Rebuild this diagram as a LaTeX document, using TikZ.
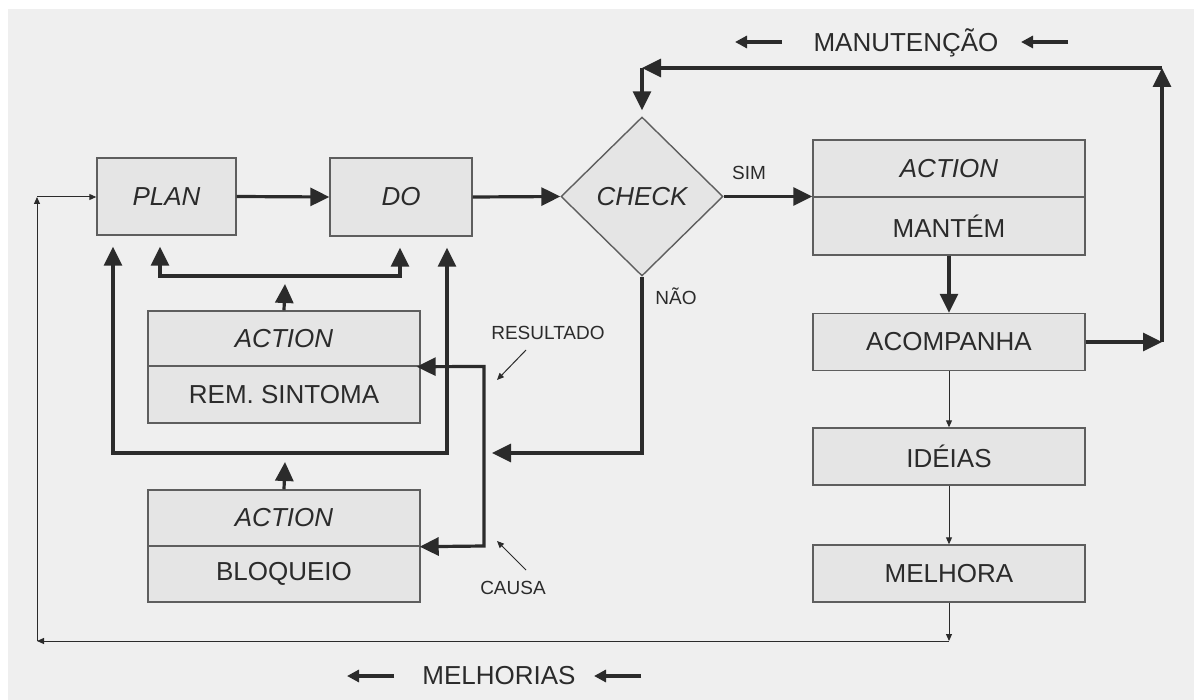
\documentclass[tikz,border=0pt]{standalone}
\usepackage{fontspec}
\setmainfont{Liberation Sans}
\usetikzlibrary{shapes.geometric,arrows.meta,calc}
\definecolor{bg}{HTML}{EFEFEF}
\definecolor{boxfill}{HTML}{E5E5E5}
\definecolor{ink}{HTML}{2B2B2B}
\definecolor{edge}{HTML}{5E5E5E}
\begin{document}
\begin{tikzpicture}[x=1pt,y=-1pt,
  box/.style={draw=edge,line width=1.4pt,fill=boxfill,inner sep=0pt,text=ink,
    font=\fontsize{26}{30}\selectfont,minimum width=272pt},
  lbl/.style={text=ink,inner sep=0pt,font=\fontsize{19}{22}\selectfont},
  ttl/.style={text=ink,inner sep=0pt,font=\fontsize{26}{30}\selectfont},
  thk/.style={line width=3.2pt,draw=ink},
  thn/.style={line width=1pt,draw=ink},
  bigtip/.tip={Triangle[length=19pt,width=18pt]},
  smalltip/.tip={Triangle[length=7pt,width=6pt]},
  midtip/.tip={Triangle[length=12pt,width=12pt]}
]
\useasboundingbox (0,0) rectangle (1194,700);
\fill[white] (0,0) rectangle (1194,700);
\fill[bg] (8,9) rectangle (1194,700);

% nodes
\node[box,minimum width=139pt,minimum height=77pt] (plan) at (166.5,196.5) {\itshape PLAN};
\node[box,minimum width=142pt,minimum height=78pt] (do) at (401,197) {\itshape DO};
\node[diamond,draw=edge,line width=1.4pt,fill=boxfill,inner sep=0pt,text=ink,
  font=\fontsize{26}{30}\selectfont,minimum width=162pt,minimum height=159pt] (check) at (642,196.5) {\itshape CHECK};

\node[box,minimum height=57pt] (actA) at (949,168.5) {\itshape ACTION};
\node[box,minimum height=58pt] (actB) at (949,226) {MANTÉM};
\node[box,minimum height=57pt] (acomp) at (949,342) {ACOMPANHA};
\node[box,minimum height=57pt] (ideias) at (949,456.5) {IDÉIAS};
\node[box,minimum height=57pt] (melhora) at (949,573.5) {MELHORA};

\node[box,minimum height=55pt] (remA) at (284,338.5) {\itshape ACTION};
\node[box,minimum height=57pt] (remB) at (284,394.5) {REM. SINTOMA};
\node[box,minimum height=56pt] (bloA) at (284,518) {\itshape ACTION};
\node[box,minimum height=56pt] (bloB) at (284,574) {BLOQUEIO};

% labels
\node[lbl] (sim) at (749,173) {SIM};
\node[lbl] (nao) at (676,296) {NÃO};
\node[lbl] (res) at (548,333) {RESULTADO};
\node[lbl] (causa) at (513,588) {CAUSA};
\node[ttl] (manut) at (906,43) {MANUTENÇÃO};
\node[ttl] (melh) at (499,676) {MELHORIAS};

% coordinates
\coordinate (bl) at (113,453);
\coordinate (br) at (447,453);
\coordinate (ml) at (160,276);
\coordinate (mr) at (400,276);
\coordinate (rt) at (285,284);
\coordinate (bt) at (285,462);
\coordinate (rv1) at (484,366.5);
\coordinate (rv2) at (484,546);
\coordinate (nt) at (492,453);
\coordinate (r1) at (1162,342);
\coordinate (r2) at (1162,68);
\coordinate (r3) at (642,68);
\coordinate (b1) at (949,641);
\coordinate (b2) at (37,641);
\coordinate (b3) at (37,197);
\coordinate (resA) at (526,350);
\coordinate (resB) at (497,380);
\coordinate (cauA) at (526,570);
\coordinate (cauB) at (497,541);
\coordinate (ma1) at (782,42);
\coordinate (ma2) at (735,42);
\coordinate (ma3) at (1068,42);
\coordinate (ma4) at (1021,42);
\coordinate (me1) at (394,676);
\coordinate (me2) at (347,676);
\coordinate (me3) at (641,676);
\coordinate (me4) at (594,676);

% main flow
\draw[thk,-bigtip] (plan.east) -- (do.west);
\draw[thk,-bigtip] (do.east) -- (check.west);
\draw[thk,-bigtip] (check.east) -- (check.east -| actA.south west);
\draw[thk,-bigtip] (actB.south) -- (acomp.north);

% right loop (manutencao)
\draw[thk,-bigtip] (acomp.east) -- (r1);
\draw[thk,-bigtip] (r1) -- (r2);
\draw[thk,-bigtip] (r2) -- (r3);
\draw[thk,-bigtip,shorten >=6pt] (r3) -- (check.north);

% nao
\draw[thk,-bigtip] (check.south) -- (check.south |- nt) -- (nt);

% left structure
\draw[thk,bigtip-bigtip,shorten <=11pt,shorten >=11pt] (bl |- plan.south) -- (bl) -- (br) -- (br |- do.south);
\draw[thk,bigtip-bigtip,shorten <=11pt,shorten >=11pt] (ml |- plan.south) -- (ml) -- (mr) -- (mr |- do.south);
\draw[thk,-bigtip] (remA.north) -- (rt);
\draw[thk,-bigtip] (bloA.north) -- (bt);
\draw[thk,bigtip-bigtip,shorten <=-4pt,shorten >=-1pt] (remA.south east) -- (rv1) -- (rv2) -- (bloA.south east);

% thin arrows
\draw[thn,-smalltip] (acomp.south) -- (ideias.north);
\draw[thn,-smalltip] (ideias.south) -- (melhora.north);
\draw[thn,-smalltip] (melhora.south) -- (b1);
\draw[thn,-smalltip] (b1) -- (b2);
\draw[thn,-smalltip] (b2) -- (b3);
\draw[thn,-smalltip] (b3) -- (b3 -| plan.west);
\draw[thn,-smalltip] (resA) -- (resB);
\draw[thn,-smalltip] (cauA) -- (cauB);

% title arrows
\draw[line width=3.5pt,draw=ink,-midtip] (ma1) -- (ma2);
\draw[line width=3.5pt,draw=ink,-midtip] (ma3) -- (ma4);
\draw[line width=3.5pt,draw=ink,-midtip] (me1) -- (me2);
\draw[line width=3.5pt,draw=ink,-midtip] (me3) -- (me4);
\end{tikzpicture}
\end{document}
